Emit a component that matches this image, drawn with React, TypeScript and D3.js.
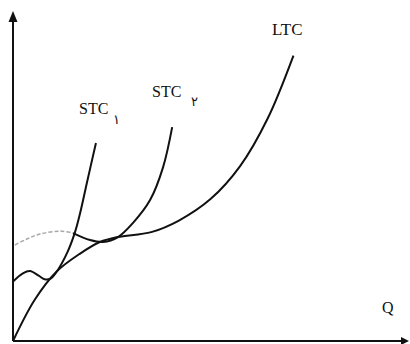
import React from "react";
import * as d3 from "d3";

// Long-run total cost (LTC)
const ltcQ = [0, 5.5, 11, 17, 22, 26.5, 35, 42, 50, 57.5, 64.5, 71];
const ltcC = [0, 12.5, 21, 26.5, 30, 31.5, 33, 36.5, 43, 53, 67.5, 86.5];

// Short-run total cost 1 (STC ۱)
const stc1Q = [0, 2.5, 4.3, 6.5, 8, 9.5, 11, 13.7, 15.7, 17, 18.7, 21];
const stc1C = [18, 20.5, 21.2, 19.8, 18.7, 18.9, 20.9, 26.7, 33, 38.8, 47.9, 60];

// Short-run total cost 2 (STC ۲): dashed part, then solid part
const stc2DashQ = [0.5, 3.5, 6.8, 11.9, 15.2];
const stc2DashC = [29.1, 30.9, 32.4, 33.3, 32.7];
const stc2Q = [15.2, 19.5, 22.8, 26.6, 30.4, 34.7, 38, 40.3];
const stc2C = [32.7, 30.6, 30, 31.5, 35.8, 42.7, 52.7, 64.8];

const labels = ["STC", "STC", "LTC", "Q"];
const subs = ["\u06F1", "\u06F2"];

export default function App() {
  const W = 410, H = 344;
  const x = d3.scaleLinear().domain([0, 100]).range([13, 408]);
  const y = d3.scaleLinear().domain([0, 100]).range([341, 11]);
  const line = d3
    .line<[number, number]>()
    .x((d) => x(d[0]))
    .y((d) => y(d[1]))
    .curve(d3.curveCatmullRom.alpha(0.5));
  const zip = (a: number[], b: number[]) => a.map((v, i) => [v, b[i]] as [number, number]);

  const serif = "'Liberation Serif', 'Times New Roman', serif";
  const arab = "'DejaVu Sans', sans-serif";
  return (
    <svg width={W} height={H} style={{ position: "absolute", left: 0, top: 0, background: "#fff" }}>
      {/* axes */}
      <line x1={x(0)} y1={y(0)} x2={x(0)} y2={20} stroke="#111" strokeWidth={2} />
      <path d={`M${x(0) - 4.5},22 L${x(0)},11 L${x(0) + 4.5},22 Z`} fill="#111" />
      <line x1={x(0)} y1={y(0)} x2={402} y2={y(0)} stroke="#111" strokeWidth={2} />
      <path d={`M401,${y(0) - 4} L409,${y(0)} L401,${y(0) + 4} Z`} fill="#111" />

      {/* curves */}
      <path d={line(zip(stc2DashQ, stc2DashC)) || ""} fill="none" stroke="#a8a8a8" strokeWidth={1.5} strokeDasharray="4,2" />
      <path d={line(zip(ltcQ, ltcC)) || ""} fill="none" stroke="#111" strokeWidth={2} />
      <path d={line(zip(stc1Q, stc1C)) || ""} fill="none" stroke="#111" strokeWidth={2} />
      <path d={line(zip(stc2Q, stc2C)) || ""} fill="none" stroke="#111" strokeWidth={2} />

      {/* labels */}
      <text x={79} y={114} fontFamily={serif} fontSize={16} fill="#111">{labels[0]}</text>
      <text x={113} y={124} fontFamily={arab} fontSize={13} fill="#111">{subs[0]}</text>
      <text x={152} y={97} fontFamily={serif} fontSize={16} fill="#111">{labels[1]}</text>
      <text x={191} y={106} fontFamily={arab} fontSize={13} fill="#111">{subs[1]}</text>
      <text x={272} y={35} fontFamily={serif} fontSize={17} fill="#111">{labels[2]}</text>
      <text x={382} y={313} fontFamily={serif} fontSize={16} fill="#111">{labels[3]}</text>
    </svg>
  );
}
